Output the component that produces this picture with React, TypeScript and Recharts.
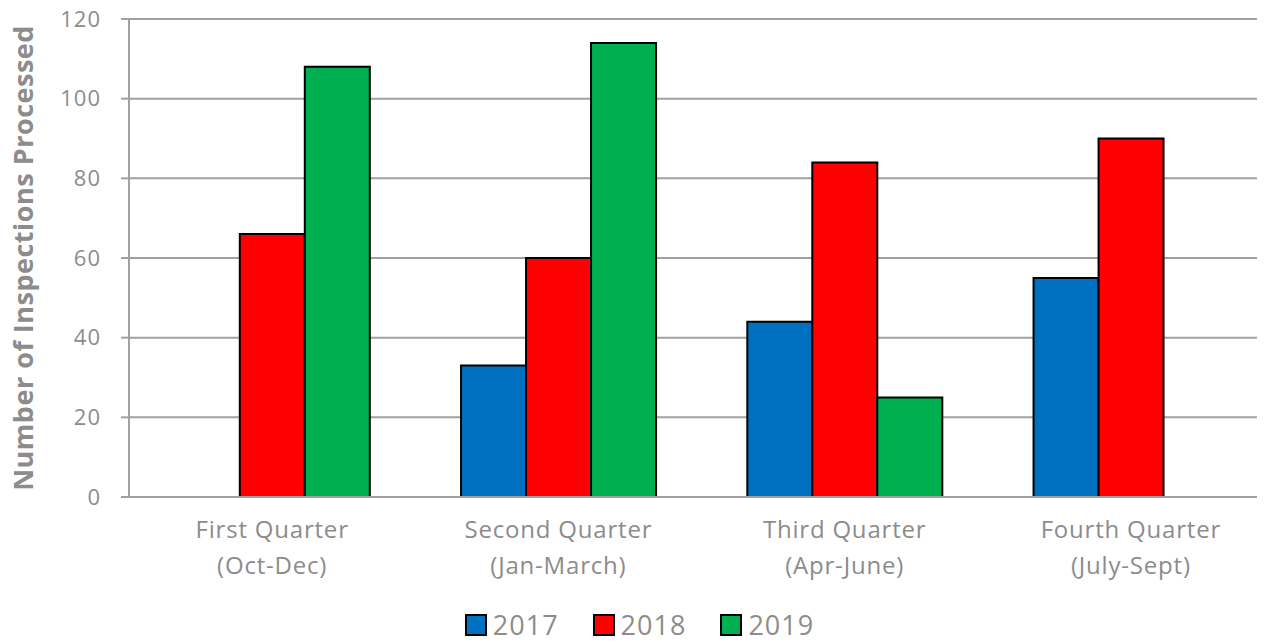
import React from 'react';
import { BarChart, Bar, XAxis, YAxis, CartesianGrid, Legend, Label } from 'recharts';

const categories = ['First Quarter|(Oct-Dec)', 'Second Quarter|(Jan-March)', 'Third Quarter|(Apr-June)', 'Fourth Quarter|(July-Sept)'];
const values2017: (number | null)[] = [null, 33, 44, 55];
const values2018: (number | null)[] = [66, 60, 84, 90];
const values2019: (number | null)[] = [108, 114, 25, null];
const yTicks = [0, 20, 40, 60, 80, 100, 120];
const seriesNames = ['2017', '2018', '2019'];
const seriesColors = ['#0070C0', '#FF0000', '#00B050'];

const data = categories.map((c, i) => ({
  name: c,
  y2017: values2017[i],
  y2018: values2018[i],
  y2019: values2019[i],
}));

const FONT = '"Open Sans", Lato, sans-serif';
const GREY = '#8c8c8c';

const XTick = (props: any) => {
  const { x, y, payload } = props;
  const lines = String(payload.value).split('|');
  return (
    <g>
      {lines.map((l, i) => (
        <text key={i} x={x} y={y + 33 + i * 36} textAnchor="middle" fill={GREY} fontFamily={FONT} fontSize={24} letterSpacing={0.8}>
          {l}
        </text>
      ))}
    </g>
  );
};

const LegendContent = () => (
  <div style={{ display: 'flex', justifyContent: 'center', gap: 34, fontFamily: FONT, fontSize: 27, lineHeight: '28px', color: GREY, paddingLeft: 22, paddingTop: 14, letterSpacing: 1 }}>
    {seriesNames.map((n, i) => (
      <div key={n} style={{ display: 'flex', alignItems: 'center' }}>
        <span style={{ display: 'inline-block', width: 18, height: 18, background: seriesColors[i], border: '2px solid #000', marginRight: 6 }} />
        <span>{n}</span>
      </div>
    ))}
  </div>
);

export default function App() {
  return (
    <div style={{ position: 'absolute', left: 0, top: 0, background: '#fff' }}>
      <BarChart
        width={1271}
        height={642}
        data={data}
        margin={{ top: 19, right: 14, left: 0, bottom: 0 }}
        barCategoryGap="16%"
        barGap={0}
      >
        <CartesianGrid vertical={false} stroke="#a0a0a0" strokeWidth={2} />
        <XAxis
          dataKey="name"
          height={100}
          tick={<XTick />}
          tickLine={false}
          axisLine={{ stroke: '#a0a0a0', strokeWidth: 2 }}
          interval={0}
          padding={{ left: 0, right: -17 }}
        />
        <YAxis
          width={129}
          domain={[0, 120]}
          ticks={yTicks}
          tickSize={8}
          tickMargin={20}
          tickLine={{ stroke: '#a0a0a0', strokeWidth: 2 }}
          axisLine={{ stroke: '#a0a0a0', strokeWidth: 2 }}
          tick={{ fill: GREY, fontFamily: FONT, fontSize: 22, letterSpacing: 1 }}
        >
          <Label
            value="Number of Inspections Processed"
            angle={-90}
            position="insideLeft"
            dx={18}
            style={{ textAnchor: 'middle', fill: GREY, fontFamily: FONT, fontSize: 27, fontWeight: 'bold', letterSpacing: 0.5 }}
          />
        </YAxis>
        <Legend verticalAlign="bottom" content={<LegendContent />} wrapperStyle={{ height: 45 }} />
        <Bar dataKey="y2017" name="2017" fill={seriesColors[0]} stroke="#000" strokeWidth={2} isAnimationActive={false} />
        <Bar dataKey="y2018" name="2018" fill={seriesColors[1]} stroke="#000" strokeWidth={2} isAnimationActive={false} />
        <Bar dataKey="y2019" name="2019" fill={seriesColors[2]} stroke="#000" strokeWidth={2} isAnimationActive={false} />
      </BarChart>
    </div>
  );
}
